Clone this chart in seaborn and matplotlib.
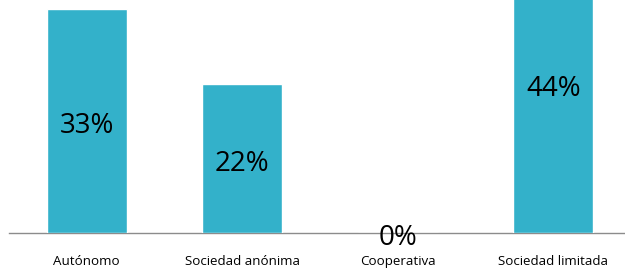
import matplotlib
matplotlib.use("Agg")
import matplotlib.pyplot as plt
import matplotlib.transforms as mtransforms
import seaborn as sns
import pandas as pd

categories = ["Autónomo", "Sociedad anónima", "Cooperativa", "Sociedad limitada"]
values = [33.33, 22.22, 0.0, 44.44]
value_labels = ["33%", "22%", "0%", "44%"]

sns.set_theme(style="white")
plt.rcParams['font.family'] = ['Open Sans', 'DejaVu Sans']

df = pd.DataFrame({"cat": categories, "val": values})

fig = plt.figure(figsize=(6.25, 2.73), dpi=100)
ax = fig.add_axes([9/625, 39.7/273, 622/625, 233.3/273])
sns.barplot(data=df, x="cat", y="val", color="#33B1CA", saturation=1,
            width=0.515, ax=ax)
ax.set_xlim(-0.5, 3.5)
ax.set_ylim(0, 34.72)

for spine in ["top", "right", "left"]:
    ax.spines[spine].set_visible(False)
ax.spines["bottom"].set_color("#8c8c8c")
ax.spines["bottom"].set_linewidth(1.0)
ax.spines["bottom"].set_zorder(0.5)
ax.set_yticks([])
ax.set_xlabel("")
ax.set_ylabel("")
ax.tick_params(axis="x", length=0, pad=15.5, labelsize=9.6, labelcolor="#000000")

offset = mtransforms.ScaledTranslation(0, -5/100, fig.dpi_scale_trans)
for i, (v, lab) in enumerate(zip(values, value_labels)):
    ax.text(i, v / 2, lab, ha="center", va="center", fontsize=20,
            color="#000000", transform=ax.transData + offset, clip_on=False,
            zorder=5)

fig.savefig("out.png", dpi=100)
